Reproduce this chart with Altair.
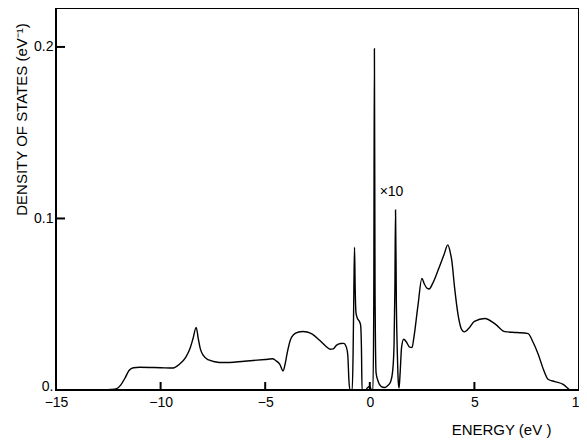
import altair as alt
import pandas as pd

# Digitised density of states curve
energy = [-15.0, -12.8, -12.4, -12.1, -11.9, -11.7, -11.5, -11.3, -11.0, -10.0, -9.4, -9.1,
          -8.8, -8.6, -8.45, -8.3, -8.2, -8.1, -7.95, -7.7, -7.4, -7.0, -6.0, -5.0, -4.65,
          -4.5, -4.3, -4.15, -4.05, -3.95, -3.8, -3.65, -3.4, -3.2, -3.0, -2.75, -2.4, -2.1,
          -1.9, -1.75, -1.6, -1.4, -1.25, -1.12, -1.05, -1.0, -0.95, -0.84, -0.80, -0.76,
          -0.73, -0.70, -0.66, -0.60, -0.50, -0.44, -0.40, -0.37, -0.2, -0.1, 0.0, 0.08,
          0.15, 0.19, 0.22, 0.25, 0.30, 0.40, 0.55, 0.70, 0.85, 1.0, 1.1, 1.16, 1.2, 1.23,
          1.27, 1.32, 1.36, 1.40, 1.45, 1.52, 1.62, 1.75, 1.9, 2.02, 2.1, 2.3, 2.49, 2.6,
          2.75, 2.84, 3.0, 3.3, 3.55, 3.73, 3.85, 3.92, 4.05, 4.24, 4.4, 4.52, 4.7, 5.0,
          5.5, 6.0, 6.46, 7.0, 7.57, 7.8, 8.05, 8.3, 8.52, 8.84, 9.24, 9.45, 9.56, 10.0]
dos = [0.0, 0.0, 0.0003, 0.0008, 0.003, 0.007, 0.0115, 0.013, 0.0133, 0.013, 0.0128, 0.015,
       0.019, 0.024, 0.030, 0.0365, 0.030, 0.024, 0.020, 0.0175, 0.0165, 0.0160, 0.0168,
       0.0178, 0.0182, 0.0172, 0.015, 0.0111, 0.015, 0.0215, 0.029, 0.0322, 0.0338, 0.0341,
       0.0338, 0.0326, 0.029, 0.0255, 0.0238, 0.024, 0.026, 0.0271, 0.0272, 0.025, 0.020,
       0.006, 0.0, 0.0, 0.02, 0.06, 0.0832, 0.06, 0.045, 0.042, 0.040, 0.038, 0.025, 0.0,
       0.0, 0.0015, 0.002, 0.0, 0.0, 0.05, 0.199, 0.06, 0.010, 0.005, 0.002, 0.0015,
       0.0025, 0.005, 0.012, 0.027, 0.06, 0.105, 0.05, 0.02, 0.005, 0.0012, 0.01, 0.025,
       0.0296, 0.028, 0.025, 0.0248, 0.03, 0.049, 0.0651, 0.062, 0.0592, 0.0589, 0.062,
       0.071, 0.079, 0.0846, 0.080, 0.0754, 0.060, 0.0423, 0.0350, 0.0339, 0.0355, 0.040,
       0.0417, 0.0384, 0.0340, 0.0335, 0.0329, 0.028, 0.0209, 0.012, 0.0063, 0.0049,
       0.0033, 0.0012, 0.0, 0.0]

x_labels = [-15, -10, -5, 0, 5, 10]
y_labels = [0.0, 0.1, 0.2]
x_ticks = [-10, -5, 0, 5]
y_ticks = [0.1, 0.2]
note_text = ["×10"]
note_e = [0.47]
note_d = [0.1154]

W, H = 523, 382
FONT = "Liberation Sans, sans-serif"

df = pd.DataFrame({"E": energy, "D": dos})
xs = alt.Scale(domain=[-15, 10], nice=False, zero=False)
ys = alt.Scale(domain=[0, 0.2227], nice=False)

line = alt.Chart(df).mark_line(color="black", strokeWidth=1.4, interpolate="monotone").encode(
    x=alt.X("E:Q", scale=xs, axis=alt.Axis(
        values=x_labels, ticks=False, domain=False, grid=False, labelFlush=False,
        labelFontSize=14, labelFont=FONT, labelColor="black", labelPadding=5,
        title="ENERGY (eV )", titleFont=FONT, titleFontSize=15, titleFontWeight="normal",
        titleColor="black", titleX=445, titleY=44, titleAlign="center",
        titleBaseline="alphabetic")),
    y=alt.Y("D:Q", scale=ys, axis=alt.Axis(
        values=y_labels, ticks=False, domain=False, grid=False,
        labelExpr="datum.value == 0 ? '0.' : format(datum.value, '.1f')",
        labelBaseline={"condition": {"test": "datum.value == 0", "value": "alphabetic"},
                       "value": "middle"},
        labelFontSize=14, labelFont=FONT, labelColor="black", labelPadding=3,
        title="DENSITY OF STATES (eV⁻¹)", titleFont=FONT, titleFontSize=15,
        titleFontWeight="normal", titleColor="black", titleAngle=270,
        titleX=-35, titleY=111, titleAlign="center", titleBaseline="middle")),
)

xt = alt.Chart(pd.DataFrame({"E": x_ticks})).mark_rule(color="black", strokeWidth=2).encode(
    x=alt.X("E:Q", scale=xs),
    y=alt.value(H), y2=alt.value(H - 8),
)
yt = alt.Chart(pd.DataFrame({"D": y_ticks})).mark_rule(color="black", strokeWidth=2).encode(
    y=alt.Y("D:Q", scale=ys),
    x=alt.value(0), x2=alt.value(9),
)
note = alt.Chart(pd.DataFrame({"E": note_e, "D": note_d, "t": note_text})).mark_text(
    align="left", baseline="middle", fontSize=14, font=FONT, color="black"
).encode(
    x=alt.X("E:Q", scale=xs), y=alt.Y("D:Q", scale=ys), text="t:N"
)

chart = alt.layer(line, xt, yt, note).properties(
    width=W, height=H,
    autosize=alt.AutoSizeParams(type="none"),
    padding={"left": 48, "top": 0, "right": 0, "bottom": 48},
    background="white",
).configure_view(stroke="black", strokeWidth=2)

chart.save("out.html", embed_options={"renderer": "svg", "actions": False})
